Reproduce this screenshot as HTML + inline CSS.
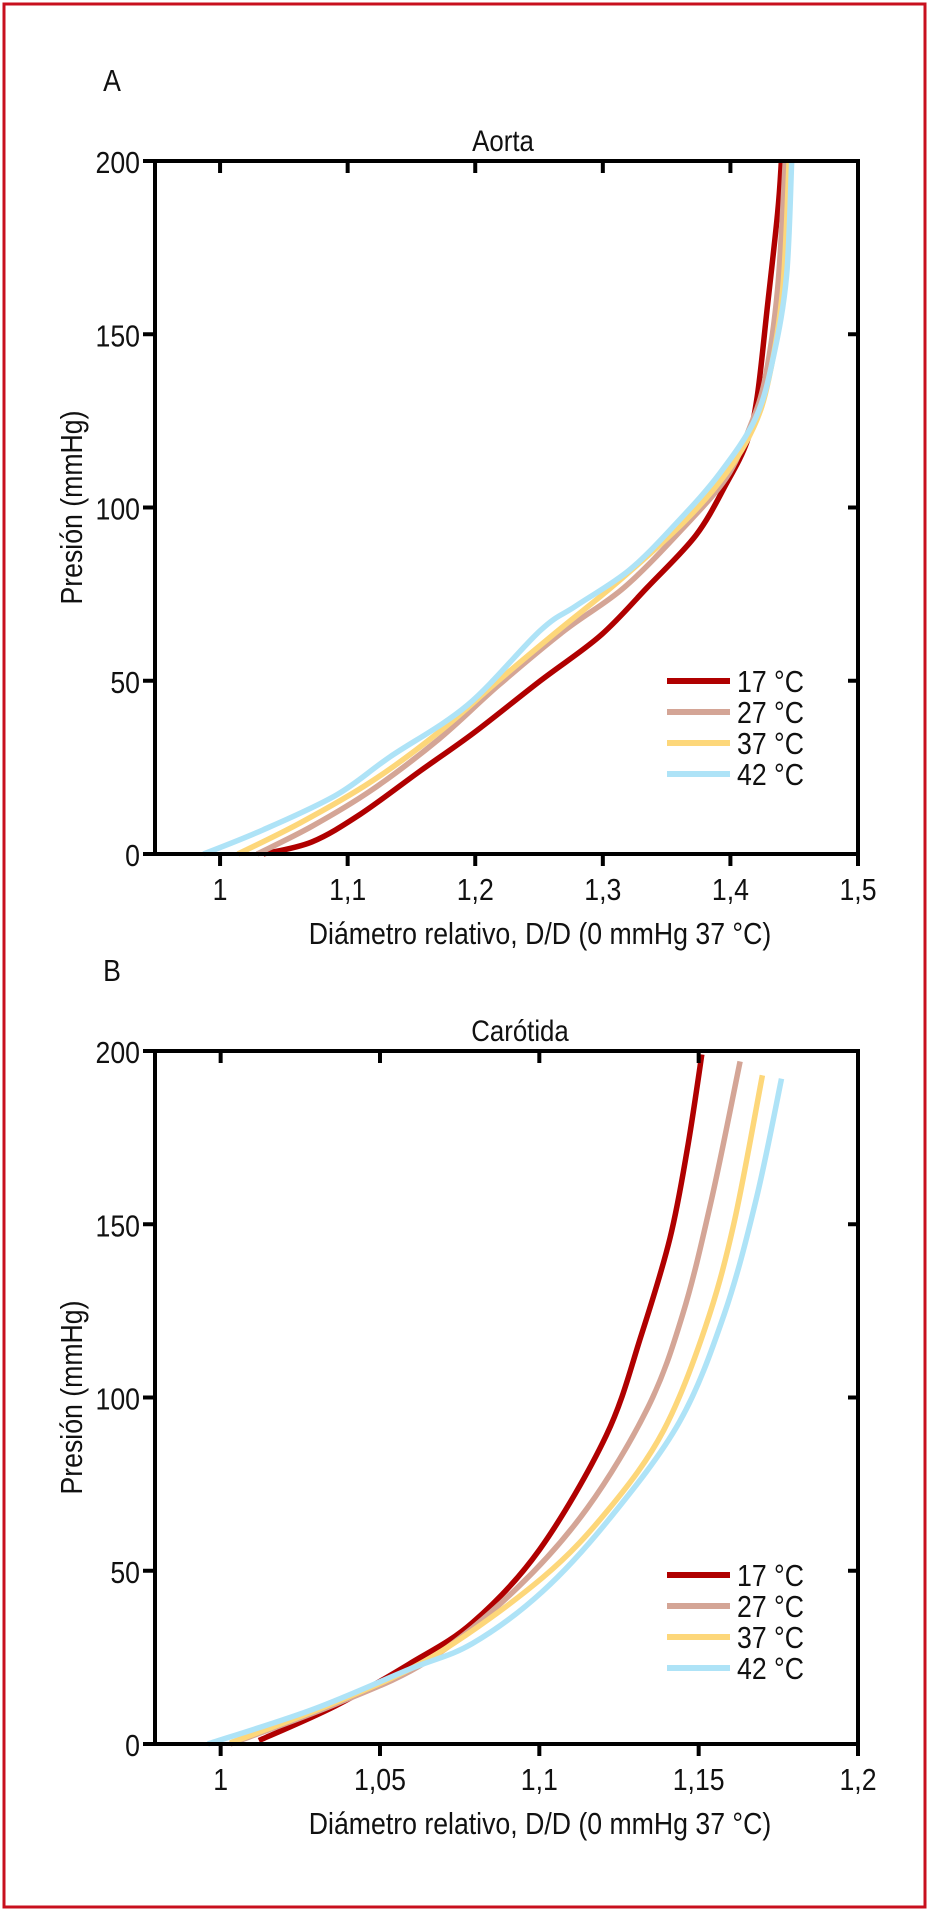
<!DOCTYPE html>
<html><head><meta charset="utf-8"><style>
html,body{margin:0;padding:0;background:#fff}
svg{display:block}
text{font-family:"Liberation Sans",sans-serif;fill:#111}
</style></head><body>
<svg id="fig" width="940" height="1914" viewBox="0 0 940 1914" xmlns="http://www.w3.org/2000/svg">
<rect x="4" y="4" width="921" height="1903" fill="none" stroke="#c8101e" stroke-width="3"/>
<g id="panelA"></g>
<g id="panelB"></g>
</svg>
<script>
const NS="http://www.w3.org/2000/svg";
const seriesLabels=["17 °C","27 °C","37 °C","42 °C"];
const seriesColors=["#b00000","#d4a596","#fdd77a","#aee3f7"];
const yTicks=[0,50,100,150,200];
const aortaXTicks=[1,1.1,1.2,1.3,1.4,1.5];
const aortaXLabels=["1","1,1","1,2","1,3","1,4","1,5"];
const carotidXTicks=[1,1.05,1.1,1.15,1.2];
const carotidXLabels=["1","1,05","1,1","1,15","1,2"];
const aorta17x=[1.034,1.072,1.110,1.157,1.199,1.251,1.298,1.335,1.373,1.397,1.413,1.421,1.429,1.437,1.440];
const aorta17y=[0,3.5,11.5,24,35,50,63,77,92,107,119,132,158,185,200];
const aorta27x=[1.029,1.072,1.119,1.171,1.218,1.270,1.317,1.364,1.397,1.415,1.427,1.437,1.443];
const aorta27y=[0,8,18.5,33,48.6,64.5,77,94.5,108.7,123,137,163,200];
const aorta37x=[1.014,1.063,1.119,1.171,1.218,1.265,1.312,1.364,1.397,1.418,1.430,1.441,1.446];
const aorta37y=[0,9,21,35,50,64.5,78.6,96,110,123,137,163,200];
const aorta42x=[0.987,1.034,1.091,1.133,1.194,1.251,1.279,1.321,1.359,1.392,1.420,1.434,1.444,1.448];
const aorta42y=[0,7,17,28,43,64.5,71.6,82,96,110,126,144,167,200];
const car17x=[1.012,1.036,1.059,1.079,1.100,1.121,1.132,1.141,1.1465,1.151];
const car17y=[1,11,23,35,56,89,118,146,172,199];
const car27x=[1.003,1.036,1.065,1.093,1.115,1.134,1.145,1.154,1.163];
const car27y=[0,11.5,24,45,68,97,124,157,197];
const car37x=[1.003,1.036,1.067,1.101,1.122,1.139,1.152,1.161,1.170];
const car37y=[0.3,12,25.5,48,68,90.5,120,150,193];
const car42x=[0.996,1.029,1.059,1.079,1.101,1.122,1.144,1.158,1.168,1.176];
const car42y=[0,10,21.5,29,44,65,93,124,157,192];

function mk(parent,tag,attrs,txt){const e=document.createElementNS(NS,tag);for(const k in attrs)e.setAttribute(k,attrs[k]);if(txt!==undefined)e.textContent=txt;parent.appendChild(e);return e;}
function txt(parent,x,y,size,anchor,s,rot){
  const tr="translate("+x+" "+y+")"+(rot?" rotate(-90)":"")+" scale(0.86 1)";
  return mk(parent,"text",{x:0,y:0,"font-size":size,"text-anchor":anchor,transform:tr},s);
}
function smoothPath(P){
  let d="M"+P[0][0].toFixed(1)+","+P[0][1].toFixed(1);
  for(let i=0;i<P.length-1;i++){
    const p0=P[i-1]||P[i],p1=P[i],p2=P[i+1],p3=P[i+2]||P[i+1];
    const c1=[p1[0]+(p2[0]-p0[0])/6,p1[1]+(p2[1]-p0[1])/6];
    const c2=[p2[0]-(p3[0]-p1[0])/6,p2[1]-(p3[1]-p1[1])/6];
    d+=" C"+c1[0].toFixed(1)+","+c1[1].toFixed(1)+" "+c2[0].toFixed(1)+","+c2[1].toFixed(1)+" "+p2[0].toFixed(1)+","+p2[1].toFixed(1);
  }
  return d;
}

function drawPanel(g,cfg){
  const L=155,R=858,T=cfg.top,B=cfg.top+693;
  const sx=v=>L+(v-cfg.xmin)/(cfg.xmax-cfg.xmin)*(R-L);
  const sy=v=>B-v/200*(B-T);
  let e;
  e=txt(g,112,T-70,31,"middle",cfg.letter);
  
  
  e=txt(g,cfg.titleX,T-10,30,"middle",cfg.title);
  
  
  cfg.series.forEach((s,i)=>{
    const pts=s.x.map((v,j)=>[sx(v),sy(s.y[j])]);
    const p=mk(g,"path",{d:smoothPath(pts),fill:"none",stroke:seriesColors[i],"stroke-width":5.5,"stroke-linejoin":"round"});
    
    
  });
  e=mk(g,"rect",{x:L,y:T,width:R-L,height:B-T,fill:"none",stroke:"#000","stroke-width":4});
  
  
  yTicks.forEach(v=>{
    const y=sy(v);
    const t=mk(g,"line",{x1:L-12,x2:L,y1:y,y2:y,stroke:"#000","stroke-width":4});
    
    
    if(v>0&&v<200){const r=mk(g,"line",{x1:R-10,x2:R,y1:y,y2:y,stroke:"#000","stroke-width":4});
      
      }
    const l=txt(g,140,y+12,31,"end",String(v));
    
    
  });
  cfg.xt.forEach((v,i)=>{
    const x=sx(v);
    if(v<cfg.xmax){const a=mk(g,"line",{x1:x,x2:x,y1:T,y2:T+12,stroke:"#000","stroke-width":4});
      
      }
    const b=mk(g,"line",{x1:x,x2:x,y1:B,y2:B+12,stroke:"#000","stroke-width":4});
    
    
    const l=txt(g,x,B+46,31,"middle",cfg.xl[i]);
    
    
  });
  e=txt(g,540,B+90,31,"middle","Diámetro relativo, D/D (0 mmHg 37 °C)");
  
  
  const cy=(T+B)/2;
  e=txt(g,82,cy,31,"middle","Presión (mmHg)",true);
  
  
  seriesLabels.forEach((lab,i)=>{
    const y=cfg.legY+i*31;
    const ln=mk(g,"line",{x1:667,x2:730,y1:y,y2:y,stroke:seriesColors[i],"stroke-width":6});
    
    
    const t=txt(g,737,y+11,31,"start",lab);
    
    
  });
}
drawPanel(document.getElementById("panelA"),{top:161,xmin:0.949,xmax:1.5,letter:"A",title:"Aorta",titleX:503,
  xt:aortaXTicks,xl:aortaXLabels,legY:681,
  series:[{x:aorta17x,y:aorta17y},{x:aorta27x,y:aorta27y},{x:aorta37x,y:aorta37y},{x:aorta42x,y:aorta42y}]});
drawPanel(document.getElementById("panelB"),{top:1051,xmin:0.9794,xmax:1.2,letter:"B",title:"Carótida",titleX:520,
  xt:carotidXTicks,xl:carotidXLabels,legY:1575,
  series:[{x:car17x,y:car17y},{x:car27x,y:car27y},{x:car37x,y:car37y},{x:car42x,y:car42y}]});
</script>
</body></html>
